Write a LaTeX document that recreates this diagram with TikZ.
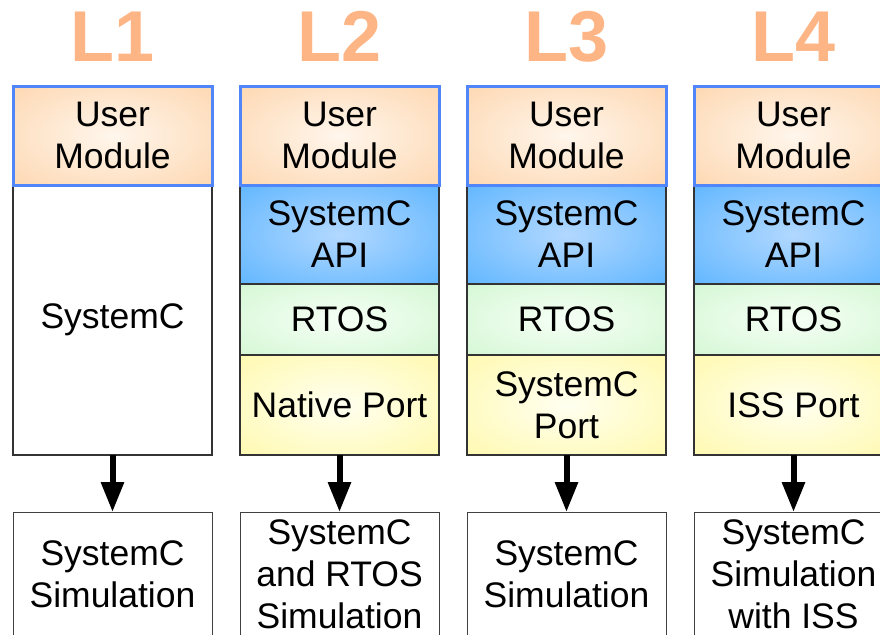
\documentclass[tikz,border=0pt]{standalone}
\usepackage{fontspec}
\setmainfont{Liberation Sans}
\usetikzlibrary{arrows.meta}

% fill colours of the layers
\definecolor{umout}{RGB}{253,208,163}
\definecolor{umin}{RGB}{255,246,236}
\definecolor{apiout}{RGB}{76,174,255}
\definecolor{apiin}{RGB}{178,216,255}
\definecolor{rtosout}{RGB}{204,245,204}
\definecolor{rtosin}{RGB}{246,255,246}
\definecolor{portout}{RGB}{255,248,160}
\definecolor{portin}{RGB}{255,255,240}
\definecolor{umborder}{RGB}{80,134,247}
\definecolor{titlecol}{RGB}{253,181,133}

\pgfdeclareradialshading{umshade}{\pgfpoint{0bp}{0bp}}{color(0bp)=(umin); color(45bp)=(umout); color(100bp)=(umout)}
\pgfdeclareradialshading{apishade}{\pgfpoint{0bp}{0bp}}{color(0bp)=(apiin); color(45bp)=(apiout); color(100bp)=(apiout)}
\pgfdeclareradialshading{rtosshade}{\pgfpoint{0bp}{0bp}}{color(0bp)=(rtosin); color(45bp)=(rtosout); color(100bp)=(rtosout)}
\pgfdeclareradialshading{portshade}{\pgfpoint{0bp}{0bp}}{color(0bp)=(portin); color(45bp)=(portout); color(100bp)=(portout)}

\tikzset{
  layer/.style={minimum width=199pt, inner sep=0pt, outer sep=0pt, align=center,
    font=\fontsize{35.5}{42}\selectfont, draw=black!80, line width=1.4pt},
  umbox/.style={layer, minimum height=99pt, shading=umshade, draw=umborder, line width=3pt},
  apibox/.style={layer, minimum height=99pt, shading=apishade},
  rtosbox/.style={layer, minimum height=71pt, shading=rtosshade},
  portbox/.style={layer, minimum height=100pt, shading=portshade},
  plainbox/.style={layer, minimum height=270pt, fill=white},
  simbox/.style={layer, minimum height=124pt, fill=white, draw=black!75, line width=1pt},
  title/.style={anchor=base, text=titlecol, font=\bfseries\fontsize{72}{72}\selectfont},
  flow/.style={line width=6pt, -{Triangle[width=22pt,length=30pt]}}
}

\begin{document}
\begin{tikzpicture}[x=1pt, y=-1pt]
\useasboundingbox (0,0) rectangle (880,634);
\clip (0,0) rectangle (880,634);

% column L1
\node[title] (t1) at (112.5,62) {L1};
\node[plainbox, anchor=north] (sc1) at (112.5,185) {SystemC};
\node[umbox, anchor=north] (um1) at (112.5,86) {User\\Module};
\node[simbox, anchor=north] (sim1) at (112.5,512) {SystemC\\Simulation};
\draw[flow] (sc1.south) -- (sim1.north);

% columns L2 to L4
\foreach \i/\cx/\port/\sim in {
    2/339.5/{Native Port}/{SystemC\\and RTOS\\Simulation},
    3/566.5/{SystemC\\Port}/{SystemC\\Simulation},
    4/793.5/{ISS Port}/{SystemC\\Simulation\\with ISS}} {
  \node[title] (t\i) at (\cx,62) {L\i};
  \node[apibox, anchor=north] (api\i) at (\cx,185) {SystemC\\API};
  \node[rtosbox, anchor=north] (rtos\i) at (api\i.south) {RTOS};
  \node[portbox, anchor=north] (port\i) at (rtos\i.south) {\port};
  \node[umbox, anchor=north] (um\i) at (\cx,86) {User\\Module};
  \node[simbox, anchor=north] (sim\i) at (\cx,512) {\sim};
  \draw[flow] (port\i.south) -- (sim\i.north);
}
\end{tikzpicture}
\end{document}
